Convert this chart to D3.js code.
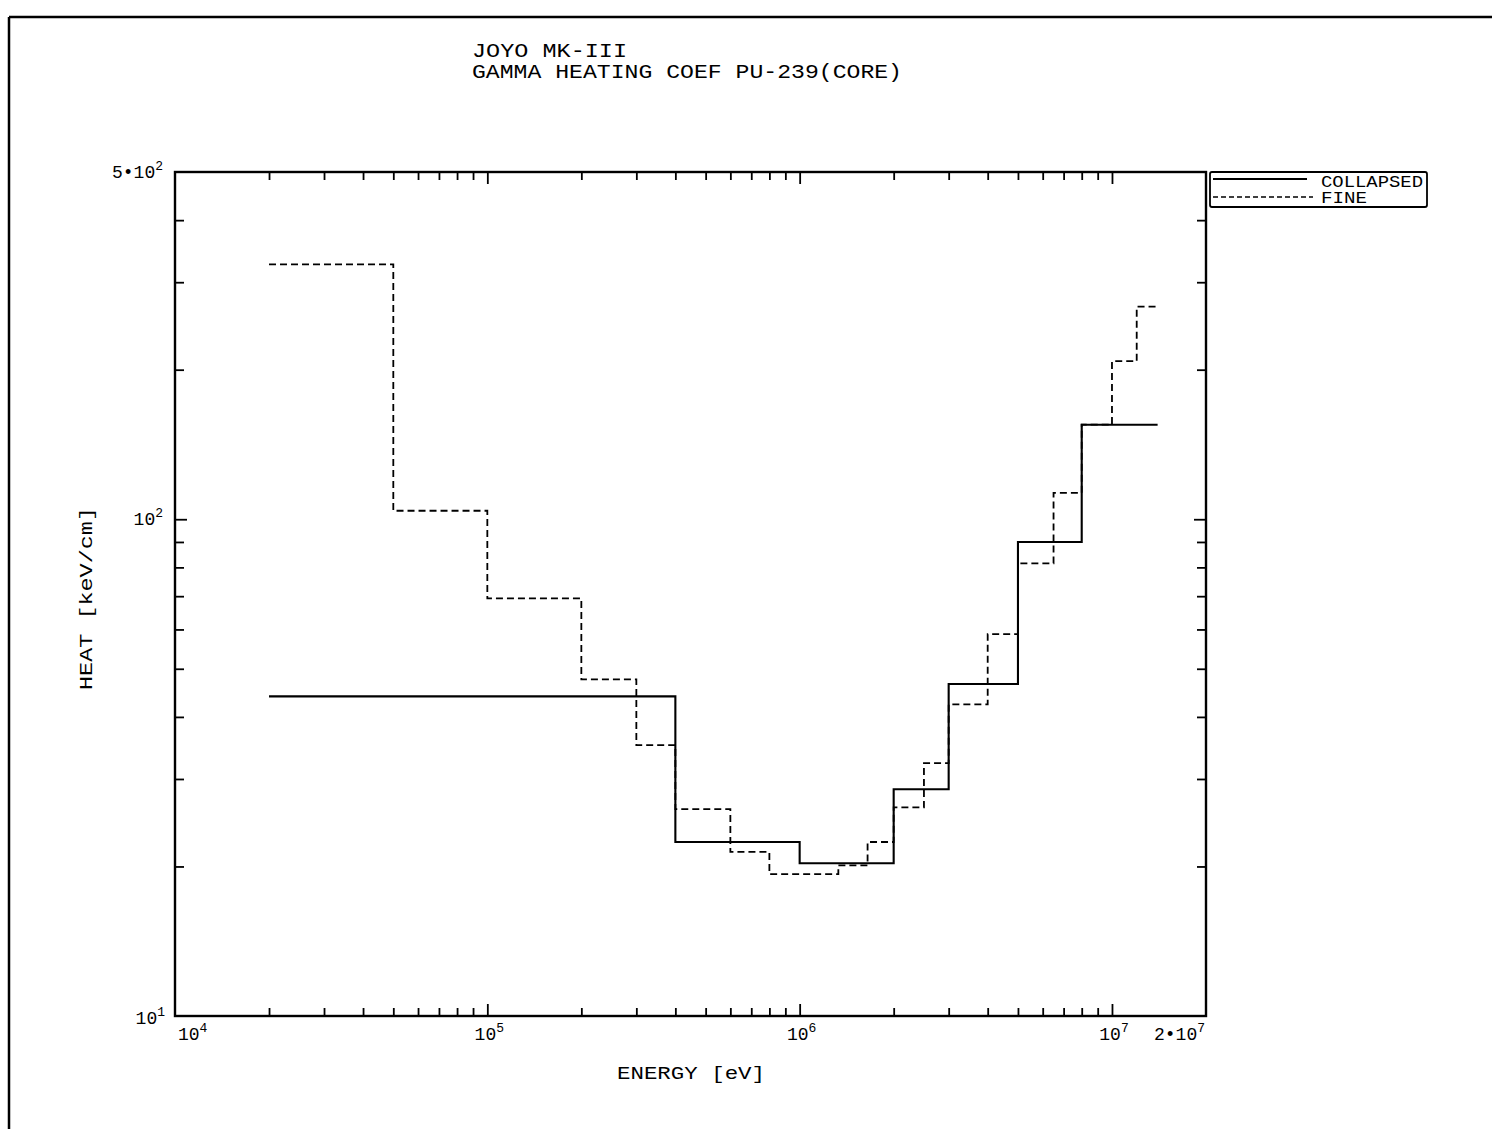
<!DOCTYPE html>
<html>
<head>
<meta charset="utf-8">
<script src="https://cdn.jsdelivr.net/npm/d3@7"></script>
<style>
  html, body { margin: 0; padding: 0; background: #fff; }
  svg { display: block; }
  text { font-family: "Liberation Mono", "DejaVu Sans Mono", monospace; fill: #000; }
</style>
</head>
<body>
<svg id="chart" width="1492" height="1129"></svg>
<script>
// Group boundaries (eV) and heating coefficients (keV/cm)
const collapsedEdges = [2e4, 4e5, 1e6, 2e6, 3e6, 5e6, 8e6, 1.4e7];
const collapsedValues = [44, 22.4, 20.3, 28.6, 46.6, 90, 155];

const fineEdges = [2e4, 5e4, 1e5, 2e5, 3e5, 4e5, 6e5, 8e5, 1.33e6, 1.65e6, 2e6, 2.5e6, 3e6, 4e6, 5e6, 6.5e6, 8e6, 1e7, 1.2e7, 1.4e7];
const fineValues = [326, 104, 69.3, 47.6, 35.1, 26.1, 21.4, 19.3, 20.1, 22.4, 26.3, 32.3, 42.4, 58.7, 81.5, 113, 155, 208, 268];

const xDecades = [1e4, 1e5, 1e6, 1e7];
const xTickLabels = [["10", "4"], ["10", "5"], ["10", "6"], ["10", "7"]];
const yDecades = [10, 100];
const yTickLabels = [["10", "1"], ["10", "2"]];

const titleLines = ["JOYO MK-III", "GAMMA HEATING COEF PU-239(CORE)"];
const seriesNames = ["COLLAPSED", "FINE"];

const svg = d3.select("#chart");
const plotLeft = 175, plotRight = 1206, plotTop = 172, plotBottom = 1016;

const x = d3.scaleLog().domain([1e4, 2e7]).range([plotLeft, plotRight]);
const y = d3.scaleLog().domain([10, 500]).range([plotBottom, plotTop]);

// page frame
svg.append("line").attr("x1", 9).attr("x2", 1492).attr("y1", 17).attr("y2", 17)
  .attr("stroke", "#000").attr("stroke-width", 2.5);
svg.append("line").attr("x1", 9).attr("x2", 9).attr("y1", 17).attr("y2", 1129)
  .attr("stroke", "#000").attr("stroke-width", 2.5);

// title
const title = svg.append("g");
title.append("text").attr("x", 472).attr("y", 57).attr("font-size", 21)
  .attr("textLength", 155).attr("lengthAdjust", "spacingAndGlyphs").text(titleLines[0]);
title.append("text").attr("x", 472).attr("y", 78).attr("font-size", 21)
  .attr("textLength", 430).attr("lengthAdjust", "spacingAndGlyphs").text(titleLines[1]);

// minor tick values
const xMinor = [];
xDecades.forEach(d => { for (let k = 2; k <= 9; k++) { const v = d * k; if (v < 2e7) xMinor.push(v); } });
const yMinor = [];
yDecades.forEach(d => { for (let k = 2; k <= 9; k++) { const v = d * k; if (v < 500) yMinor.push(v); } });

function styleAxis(g) {
  g.select(".domain").remove();
  g.selectAll(".tick line").attr("stroke", "#000").attr("stroke-width", 1.8);
}

// x ticks, bottom and top, pointing into the plot
svg.append("g").attr("transform", `translate(0,${plotBottom})`)
  .call(d3.axisBottom(x).tickValues(xMinor).tickSize(-8).tickFormat("")).call(styleAxis);
svg.append("g").attr("transform", `translate(0,${plotBottom})`)
  .call(d3.axisBottom(x).tickValues(xDecades.slice(1)).tickSize(-12).tickFormat("")).call(styleAxis);
svg.append("g").attr("transform", `translate(0,${plotTop})`)
  .call(d3.axisTop(x).tickValues(xMinor).tickSize(-8).tickFormat("")).call(styleAxis);
svg.append("g").attr("transform", `translate(0,${plotTop})`)
  .call(d3.axisTop(x).tickValues(xDecades.slice(1)).tickSize(-12).tickFormat("")).call(styleAxis);

// y ticks, left and right, pointing into the plot
svg.append("g").attr("transform", `translate(${plotLeft},0)`)
  .call(d3.axisLeft(y).tickValues(yMinor).tickSize(-9).tickFormat("")).call(styleAxis);
svg.append("g").attr("transform", `translate(${plotLeft},0)`)
  .call(d3.axisLeft(y).tickValues([100]).tickSize(-12).tickFormat("")).call(styleAxis);
svg.append("g").attr("transform", `translate(${plotRight},0)`)
  .call(d3.axisRight(y).tickValues(yMinor).tickSize(-9).tickFormat("")).call(styleAxis);
svg.append("g").attr("transform", `translate(${plotRight},0)`)
  .call(d3.axisRight(y).tickValues([100]).tickSize(-12).tickFormat("")).call(styleAxis);

// plot frame
svg.append("rect").attr("x", plotLeft).attr("y", plotTop)
  .attr("width", plotRight - plotLeft).attr("height", plotBottom - plotTop)
  .attr("fill", "none").attr("stroke", "#000").attr("stroke-width", 2.4);

// tick labels with superscript exponents
function powerLabel(g, px, py, parts, anchor, prefix) {
  const t = g.append("text").attr("x", px).attr("y", py).attr("font-size", 18).attr("text-anchor", anchor);
  if (prefix) t.append("tspan").text(prefix);
  t.append("tspan").text(parts[0]);
  t.append("tspan").attr("dy", -8).attr("font-size", 13).text(parts[1]);
}
const labels = svg.append("g");
xDecades.forEach((d, i) => {
  if (i === 0) powerLabel(labels, x(d) + 3, 1040, xTickLabels[i], "start");
  else powerLabel(labels, x(d) + 2, 1040, xTickLabels[i], "middle");
});
powerLabel(labels, x(2e7) - 1, 1040, ["10", "7"], "end", "2\u2022");
powerLabel(labels, 163, y(100) + 6, yTickLabels[1], "end");
powerLabel(labels, 165, y(10) + 8, yTickLabels[0], "end");
powerLabel(labels, 163, y(500) + 6, ["10", "2"], "end", "5\u2022");

// axis titles
svg.append("text").attr("x", 617).attr("y", 1079).attr("font-size", 19)
  .attr("textLength", 148).attr("lengthAdjust", "spacingAndGlyphs").text("ENERGY [eV]");
svg.append("text").attr("transform", "translate(92,690) rotate(-90)").attr("font-size", 19)
  .attr("textLength", 183).attr("lengthAdjust", "spacingAndGlyphs").text("HEAT [keV/cm]");

// step curves
function stepPoints(edges, values) {
  const pts = values.map((v, i) => [edges[i], v]);
  pts.push([edges[edges.length - 1], values[values.length - 1]]);
  return pts;
}
const line = d3.line().x(d => x(d[0])).y(d => y(d[1])).curve(d3.curveStepAfter);

svg.append("path").datum(stepPoints(fineEdges, fineValues))
  .attr("d", line).attr("fill", "none").attr("stroke", "#000")
  .attr("stroke-width", 1.8).attr("stroke-dasharray", "7,4");
svg.append("path").datum(stepPoints(collapsedEdges, collapsedValues))
  .attr("d", line).attr("fill", "none").attr("stroke", "#000")
  .attr("stroke-width", 2.1);

// legend
const lg = svg.append("g");
lg.append("rect").attr("x", 1210).attr("y", 172).attr("width", 217).attr("height", 35)
  .attr("rx", 2).attr("fill", "none").attr("stroke", "#000").attr("stroke-width", 1.8);
lg.append("line").attr("x1", 1213).attr("x2", 1307).attr("y1", 179).attr("y2", 179)
  .attr("stroke", "#000").attr("stroke-width", 1.8);
lg.append("line").attr("x1", 1213).attr("x2", 1313).attr("y1", 197).attr("y2", 197)
  .attr("stroke", "#000").attr("stroke-width", 1.6).attr("stroke-dasharray", "5,3");
lg.append("text").attr("x", 1321).attr("y", 187).attr("font-size", 16)
  .attr("textLength", 102).attr("lengthAdjust", "spacingAndGlyphs").text(seriesNames[0]);
lg.append("text").attr("x", 1321).attr("y", 203).attr("font-size", 16)
  .attr("textLength", 46).attr("lengthAdjust", "spacingAndGlyphs").text(seriesNames[1]);
</script>
</body>
</html>
